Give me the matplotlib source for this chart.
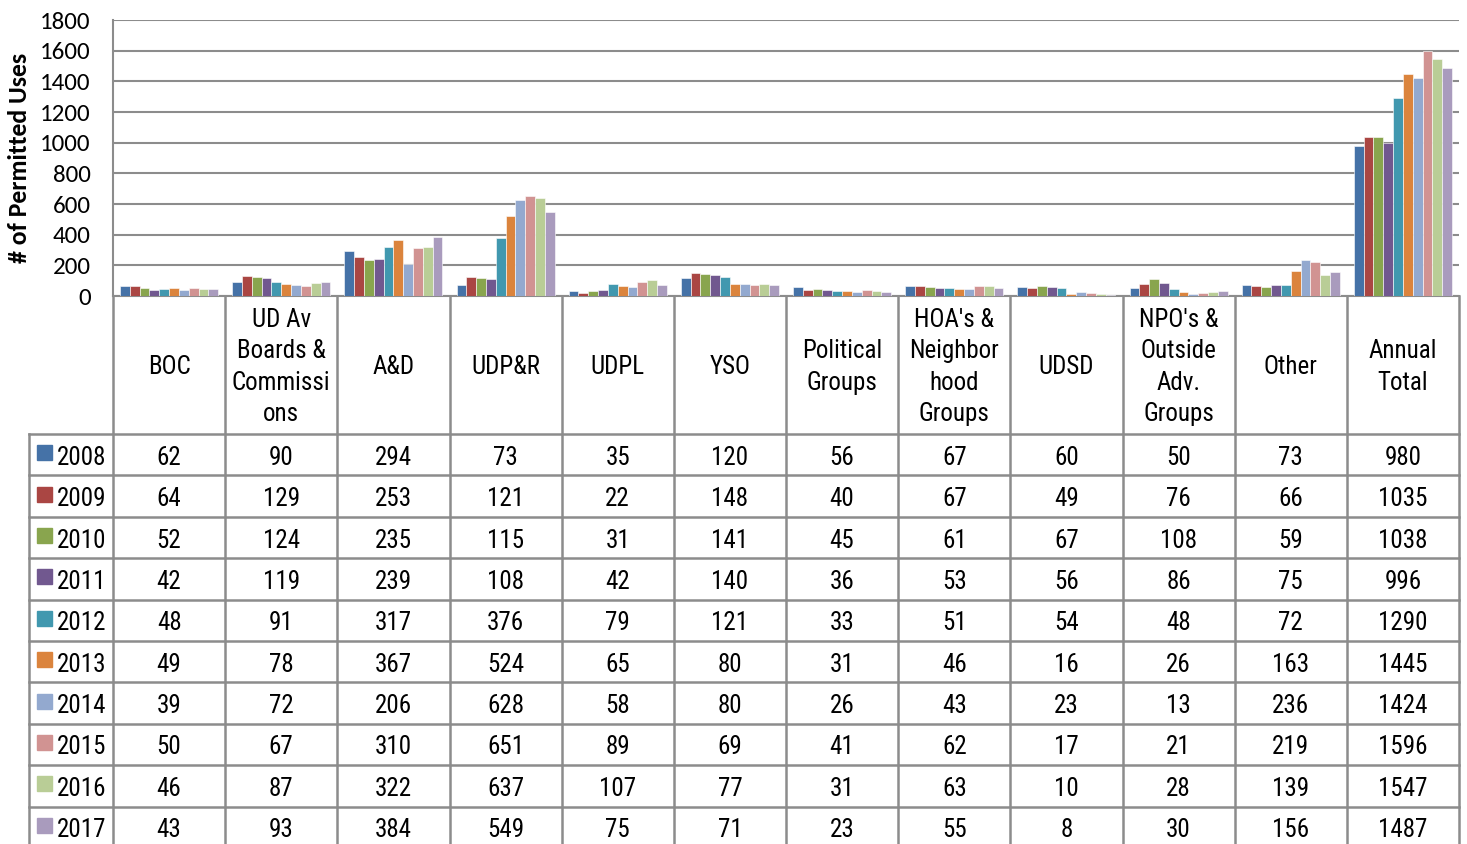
import numpy as np
import matplotlib
matplotlib.use("Agg")
import matplotlib.pyplot as plt

plt.rcParams['font.family'] = ['Roboto Condensed', 'Archivo Narrow', 'Liberation Sans', 'DejaVu Sans']
axis_font = ['Carlito', 'Lato', 'DejaVu Sans']

categories = ["BOC", "UD Av\nBoards &\nCommissi\nons", "A&D", "UDP&R", "UDPL", "YSO",
              "Political\nGroups", "HOA's &\nNeighbor\nhood\nGroups", "UDSD",
              "NPO's &\nOutside\nAdv.\nGroups", "Other", "Annual\nTotal"]
years = ["2008", "2009", "2010", "2011", "2012", "2013", "2014", "2015", "2016", "2017"]
colors = ["#4572A7", "#AA4643", "#89A54E", "#71588F", "#4198AF",
          "#DB843D", "#93A9CF", "#D19392", "#B9CD96", "#A99BBD"]

v2008 = [62, 90, 294, 73, 35, 120, 56, 67, 60, 50, 73, 980]
v2009 = [64, 129, 253, 121, 22, 148, 40, 67, 49, 76, 66, 1035]
v2010 = [52, 124, 235, 115, 31, 141, 45, 61, 67, 108, 59, 1038]
v2011 = [42, 119, 239, 108, 42, 140, 36, 53, 56, 86, 75, 996]
v2012 = [48, 91, 317, 376, 79, 121, 33, 51, 54, 48, 72, 1290]
v2013 = [49, 78, 367, 524, 65, 80, 31, 46, 16, 26, 163, 1445]
v2014 = [39, 72, 206, 628, 58, 80, 26, 43, 23, 13, 236, 1424]
v2015 = [50, 67, 310, 651, 89, 69, 41, 62, 17, 21, 219, 1596]
v2016 = [46, 87, 322, 637, 107, 77, 31, 63, 10, 28, 139, 1547]
v2017 = [43, 93, 384, 549, 75, 71, 23, 55, 8, 30, 156, 1487]
values = [v2008, v2009, v2010, v2011, v2012, v2013, v2014, v2015, v2016, v2017]

W, H = 1467, 844
fig = plt.figure(figsize=(W / 100, H / 100), dpi=100)

# layout in pixels
x0, x1 = 113, 1459
y_top, y_zero = 20, 296
head_bot = 434
row_h = 41.4
leg_x = 29
grid_c = "#8c8c8c"
fs = 18

ax = fig.add_axes([x0 / W, 1 - y_zero / H, (x1 - x0) / W, (y_zero - y_top) / H])
n = len(categories)
x = np.arange(n)
bw = 0.0875
for i, (yr, vals) in enumerate(zip(years, values)):
    ax.bar(x + (i - 4.5) * bw, vals, bw, color=colors[i], edgecolor="white",
           linewidth=0.4, zorder=3)
ax.set_xlim(-0.5, n - 0.5)
ax.set_ylim(0, 1800)
ax.set_yticks(range(0, 1801, 200))
ax.set_xticks([])
ax.tick_params(axis="y", length=0, pad=16)
for lab in ax.get_yticklabels():
    lab.set_fontsize(18)
    lab.set_family(axis_font)
ax.grid(axis="y", color=grid_c, linewidth=1.5, zorder=0)
for s in ["top", "right"]:
    ax.spines[s].set_visible(False)
for s in ["left", "bottom"]:
    ax.spines[s].set_color(grid_c)
    ax.spines[s].set_linewidth(1.5)
ax.set_ylabel("# of Permitted Uses", fontsize=18.5, fontweight="bold", family=axis_font)
ax.yaxis.set_label_coords((31 - x0) / (x1 - x0), 0.5)

# data table under the chart
tab = fig.add_axes([0, 0, 1, 1])
tab.set_xlim(0, W)
tab.set_ylim(H, 0)
tab.axis("off")
colw = (x1 - x0) / n
rows_bot = head_bot + row_h * len(years)
lw = 1.8
for k in range(n + 1):
    xx = x0 + k * colw
    tab.plot([xx, xx], [y_zero, rows_bot], color=grid_c, lw=lw)
tab.plot([leg_x, leg_x], [head_bot, rows_bot], color=grid_c, lw=lw)
for j in range(len(years) + 1):
    yy = head_bot + j * row_h
    tab.plot([leg_x, x1], [yy, yy], color=grid_c, lw=lw)

for k, cat in enumerate(categories):
    tab.text(x0 + (k + 0.5) * colw, (y_zero + head_bot) / 2 + 2, cat, ha="center",
             va="center", fontsize=fs, linespacing=1.38)

for j, (yr, vals) in enumerate(zip(years, values)):
    yc = head_bot + (j + 0.5) * row_h
    tab.add_patch(plt.Rectangle((37, yc - 9.5), 15, 15, color=colors[j]))
    tab.text(57, yc + 3, yr, ha="left", va="center", fontsize=fs)
    for k, v in enumerate(vals):
        tab.text(x0 + (k + 0.5) * colw, yc + 3, str(v), ha="center", va="center",
                 fontsize=fs)

fig.savefig("out.png", dpi=100)
